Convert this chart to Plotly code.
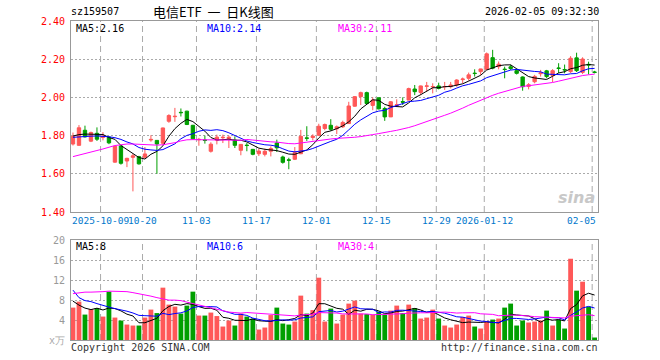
import plotly.graph_objects as go
import pandas as pd

# ---------------- data ----------------
opens = [1.756, 1.749, 1.828, 1.771, 1.812, 1.790, 1.792, 1.661, 1.746, 1.667,
         1.686, 1.690, 1.686, 1.777, 1.775, 1.760, 1.875, 1.899, 1.922, 1.928,
         1.854, 1.778, 1.777, 1.718, 1.776, 1.789, 1.784, 1.777, 1.723, 1.750,
         1.728, 1.705, 1.702, 1.718, 1.761, 1.688, 1.673, 1.676, 1.705, 1.788,
         1.790, 1.802, 1.837, 1.854, 1.836, 1.846, 1.863, 1.954, 2.004, 2.025,
         1.958, 1.998, 1.942, 1.898, 1.958, 1.978, 1.986, 2.044, 2.026, 2.058,
         2.055, 2.060, 2.055, 2.056, 2.065, 2.093, 2.100, 2.127, 2.135, 2.147,
         2.208, 2.161, 2.148, 2.160, 2.140, 2.107, 2.058, 2.082, 2.124, 2.139,
         2.115, 2.154, 2.146, 2.135, 2.207, 2.131, 2.173, 2.133]
highs = [1.816, 1.855, 1.852, 1.821, 1.843, 1.818, 1.796, 1.746, 1.750, 1.684,
         1.705, 1.694, 1.740, 1.802, 1.776, 1.842, 1.912, 1.945, 1.942, 1.930,
         1.856, 1.788, 1.800, 1.765, 1.805, 1.805, 1.800, 1.796, 1.756, 1.761,
         1.730, 1.732, 1.732, 1.744, 1.779, 1.695, 1.684, 1.740, 1.830, 1.849,
         1.807, 1.862, 1.863, 1.886, 1.853, 1.878, 1.977, 2.007, 2.030, 2.030,
         2.000, 1.999, 1.951, 1.981, 1.990, 2.000, 2.051, 2.065, 2.062, 2.081,
         2.074, 2.077, 2.081, 2.081, 2.095, 2.104, 2.130, 2.147, 2.150, 2.235,
         2.249, 2.188, 2.161, 2.171, 2.151, 2.110, 2.075, 2.118, 2.144, 2.144,
         2.148, 2.179, 2.172, 2.216, 2.234, 2.210, 2.187, 2.139]
lows = [1.748, 1.747, 1.790, 1.766, 1.772, 1.775, 1.755, 1.658, 1.648, 1.635,
        1.508, 1.648, 1.680, 1.768, 1.600, 1.752, 1.867, 1.872, 1.900, 1.855,
        1.781, 1.747, 1.758, 1.711, 1.754, 1.761, 1.735, 1.735, 1.697, 1.718,
        1.697, 1.693, 1.691, 1.691, 1.714, 1.653, 1.624, 1.672, 1.703, 1.772,
        1.775, 1.798, 1.828, 1.825, 1.808, 1.840, 1.862, 1.951, 1.960, 1.965,
        1.933, 1.937, 1.877, 1.897, 1.951, 1.960, 1.985, 2.012, 2.012, 2.030,
        2.021, 2.042, 2.039, 2.047, 2.056, 2.074, 2.088, 2.109, 2.118, 2.144,
        2.147, 2.147, 2.100, 2.144, 2.120, 2.035, 2.042, 2.074, 2.109, 2.100,
        2.080, 2.128, 2.126, 2.128, 2.133, 2.122, 2.120, 2.126]
closes = [1.796, 1.841, 1.793, 1.816, 1.781, 1.798, 1.762, 1.744, 1.655, 1.681,
          1.694, 1.652, 1.704, 1.780, 1.756, 1.840, 1.905, 1.901, 1.920, 1.858,
          1.783, 1.780, 1.775, 1.755, 1.792, 1.791, 1.792, 1.749, 1.754, 1.748,
          1.702, 1.719, 1.718, 1.732, 1.736, 1.660, 1.671, 1.711, 1.796, 1.786,
          1.797, 1.849, 1.858, 1.833, 1.846, 1.869, 1.955, 2.004, 2.025, 1.968,
          1.986, 1.940, 1.898, 1.977, 1.961, 1.975, 2.046, 2.030, 2.060, 2.060,
          2.057, 2.047, 2.057, 2.065, 2.091, 2.096, 2.118, 2.125, 2.149, 2.228,
          2.153, 2.174, 2.146, 2.151, 2.126, 2.056, 2.066, 2.110, 2.128, 2.109,
          2.140, 2.152, 2.144, 2.205, 2.140, 2.201, 2.170, 2.131]
volumes = [6.5, 7.7, 5.1, 6.2, 6.4, 4.7, 9.7, 4.5, 3.9, 3.1,
           2.9, 2.9, 4.5, 6.1, 5.4, 10.5, 7.1, 6.7, 5.3, 6.9,
           9.7, 4.9, 4.9, 5.5, 4.8, 2.7, 3.9, 2.9, 5.3, 4.7,
           4.3, 2.1, 2.5, 5.0, 6.5, 3.3, 3.1, 3.7, 8.9, 5.3,
           6.0, 12.5, 3.7, 6.3, 3.3, 5.1, 7.3, 7.9, 5.3, 5.2,
           5.1, 5.7, 5.1, 5.9, 6.9, 5.4, 7.1, 6.4, 4.3, 4.5,
           6.1, 4.3, 2.9, 2.5, 3.1, 4.6, 4.9, 2.7, 2.3, 3.7,
           4.1, 4.3, 6.5, 7.3, 2.9, 3.9, 3.5, 3.7, 3.9, 5.9,
           2.9, 4.1, 2.3, 16.3, 9.9, 11.7, 6.7, 0.5]

# moving-average values at the window start (they rely on days before the chart)
ma5_head = [1.798, 1.805, 1.808, 1.808]
ma10_head = [1.791, 1.794, 1.796, 1.797, 1.798, 1.797, 1.794, 1.789, 1.780]
ma30_head = [1.690, 1.697, 1.705, 1.713, 1.722, 1.730, 1.740, 1.748, 1.752, 1.756,
             1.756, 1.754, 1.751, 1.750, 1.750, 1.752, 1.757, 1.763, 1.772, 1.778,
             1.779, 1.779, 1.778, 1.777, 1.777, 1.777, 1.776, 1.776, 1.775]
vma5_head = [7.8, 7.0, 6.4, 6.1]
vma10_head = [10.0, 8.5, 7.9, 7.7, 7.3, 6.9, 6.6, 6.3, 6.1]
vma30_head = [9.3, 9.5, 9.6, 9.6, 9.6, 9.7, 9.8, 9.8, 9.8, 9.7,
              9.5, 9.3, 9.0, 8.8, 8.5, 8.2, 8.0, 8.0, 7.9, 7.6,
              7.3, 7.0, 6.7, 6.5, 6.2, 5.9, 5.6, 5.5, 5.4]

trade_days = (["2025-09-24", "2025-09-25", "2025-09-26", "2025-09-29", "2025-09-30"]
              + [d.strftime("%Y-%m-%d") for d in pd.bdate_range("2025-10-09", "2025-10-30")]
              + [d.strftime("%Y-%m-%d") for d in pd.bdate_range("2025-11-03", "2025-12-31")]
              + [d.strftime("%Y-%m-%d") for d in pd.bdate_range("2026-01-05", "2026-02-05")])
tick_dates = ["2025-10-09", "2025-10-20", "2025-11-03", "2025-11-17", "2025-12-01",
              "2025-12-15", "2025-12-29", "2026-01-12", "2026-02-05"]
tick_labels = ["2025-10-09", "10-20", "11-03", "11-17", "12-01", "12-15", "12-29",
               "2026-01-12", "02-05"]
price_ticks = [1.40, 1.60, 1.80, 2.00, 2.20, 2.40]
vol_ticks = [4, 8, 12, 16, 20]

ma_labels = ["MA5:2.16", "MA10:2.14", "MA30:2.11"]
vma_labels = ["MA5:8", "MA10:6", "MA30:4"]


def moving_avg(vals, n, head):
    out = list(head)
    for i in range(len(head), len(vals)):
        w = vals[i - n + 1:i + 1]
        out.append(sum(w) / len(w))
    return out


n = len(closes)
xs = list(range(n))
ma5 = moving_avg(closes, 5, ma5_head)
ma10 = moving_avg(closes, 10, ma10_head)
ma30 = moving_avg(closes, 30, ma30_head)
vma5 = moving_avg(volumes, 5, vma5_head)
vma10 = moving_avg(volumes, 10, vma10_head)
vma30 = moving_avg(volumes, 30, vma30_head)

RED = "#FF5858"
GREEN = "#009F00"
MA_COLORS = ["#000000", "#0000FF", "#FF00FF"]
MONO = "DejaVu Sans Mono"

# ---------------- figure ----------------
W, H = 660, 360
L, R, T, B = 71, 62, 21, 20
PW, PH = W - L - R, H - T - B
price_bot, vol_top = 212, 240.3


def px(xp):
    return (xp - L) / PW


def py(yp):
    return (H - B - yp) / PH


fig = go.Figure()
fig.add_trace(go.Candlestick(
    x=xs, open=opens, high=highs, low=lows, close=closes,
    increasing=dict(line=dict(color=RED, width=1), fillcolor=RED),
    decreasing=dict(line=dict(color=GREEN, width=1), fillcolor=GREEN),
    whiskerwidth=0, xaxis="x", yaxis="y", showlegend=False))
for vals, col in zip([ma5, ma10, ma30], MA_COLORS):
    fig.add_trace(go.Scatter(x=xs, y=vals, mode="lines", line=dict(color=col, width=1),
                             xaxis="x", yaxis="y", showlegend=False, hoverinfo="skip"))

vcolors = [RED if c > o else GREEN for o, c in zip(opens, closes)]
fig.add_trace(go.Bar(x=xs, y=volumes, marker=dict(color=vcolors, line=dict(width=0)),
                     width=0.8, xaxis="x2", yaxis="y2", showlegend=False))
for vals, col in zip([vma5, vma10, vma30], MA_COLORS):
    fig.add_trace(go.Scatter(x=xs, y=vals, mode="lines", line=dict(color=col, width=1),
                             xaxis="x2", yaxis="y2", showlegend=False, hoverinfo="skip"))

xr = [-0.33, n - 0.43]
common_x = dict(range=xr, showgrid=False, zeroline=False, showticklabels=False, ticks="",
                showline=True, mirror=True, linecolor="#999999", linewidth=1, fixedrange=True)
fig.update_layout(
    width=W, height=H, margin=dict(l=L, r=R, t=T, b=B),
    paper_bgcolor="white", plot_bgcolor="white",
    bargap=0.2, boxgap=0.2,
    xaxis=dict(domain=[0, 1], anchor="y", rangeslider=dict(visible=False), **common_x),
    xaxis2=dict(domain=[0, 1], anchor="y2", matches="x", **common_x),
    yaxis=dict(domain=[py(price_bot), 1], range=[1.4, 2.4], tickvals=price_ticks,
               ticktext=["%.2f" % v for v in price_ticks],
               tickfont=dict(family=MONO, size=10, color="#FF0000"),
               showgrid=True, gridcolor="#AAAAAA", griddash="2px,2px", gridwidth=1,
               zeroline=False, showline=True, mirror=True, linecolor="#999999", linewidth=1,
               ticks="", ticklabelstandoff=3, fixedrange=True),
    yaxis2=dict(domain=[0, py(vol_top)], range=[0, 20], tickvals=vol_ticks,
                ticktext=[str(v) for v in vol_ticks],
                tickfont=dict(family=MONO, size=10, color="#999999"),
                showgrid=True, gridcolor="#AAAAAA", griddash="2px,2px", gridwidth=1,
                zeroline=False, showline=True, mirror=True, linecolor="#999999", linewidth=1,
                ticks="", ticklabelstandoff=3, fixedrange=True),
)

shapes = []
annos = []
for d, lab in zip(tick_dates, tick_labels):
    i = trade_days.index(d) - 0.4
    for yref in ["y domain", "y2 domain"]:
        shapes.append(dict(type="line", xref="x", yref=yref, x0=i, x1=i, y0=0, y1=1,
                           line=dict(color="#AAAAAA", width=1, dash="6px,4px"), layer="below"))
    if lab == tick_labels[-1]:
        annos.append(dict(xref="paper", yref="paper", x=1.0, y=py(220), text=lab,
                          xanchor="right", yanchor="middle", showarrow=False,
                          font=dict(family=MONO, size=9.5, color="#0077CC")))
    else:
        annos.append(dict(xref="x", yref="paper", x=i, y=py(220), text=lab,
                          xanchor="center", yanchor="middle", showarrow=False,
                          font=dict(family=MONO, size=9.5, color="#0077CC")))


def txt(x, y, s, anchor="left", size=10, color="#000000", family=MONO, **kw):
    annos.append(dict(xref="paper", yref="paper", x=px(x), y=py(y), text=s, xanchor=anchor,
                      yanchor="middle", showarrow=False,
                      font=dict(family=family, size=size, color=color), **kw))


txt(69, 12, "sz159507")
txt(151, 12, "电信ETF&nbsp;&nbsp;一&nbsp;&nbsp;日K线图", size=13, family="Noto Sans CJK SC")
txt(601, 12, "2026-02-05 09:32:30", anchor="right")
for s, x0, col in zip(ma_labels, [74, 205, 336], MA_COLORS):
    txt(x0, 28, s, color=col)
for s, x0, col in zip(vma_labels, [74, 205, 336], MA_COLORS):
    txt(x0, 247, s, color=col)
txt(67, 340, "x万", anchor="right", color="#AAAAAA", size=10)
txt(69, 348, "Copyright 2026 SINA.COM", color="#333333")
txt(600, 348, "http://finance.sina.com.cn", anchor="right", color="#333333")
txt(597, 197, "<b><i>sina</i></b>", anchor="right", size=16, color="#C8C8C8",
    family="DejaVu Sans")

fig.update_layout(shapes=shapes, annotations=annos)
fig.write_html("out.html", config={"displayModeBar": False},
               post_script="document.body.style.margin='0';")
